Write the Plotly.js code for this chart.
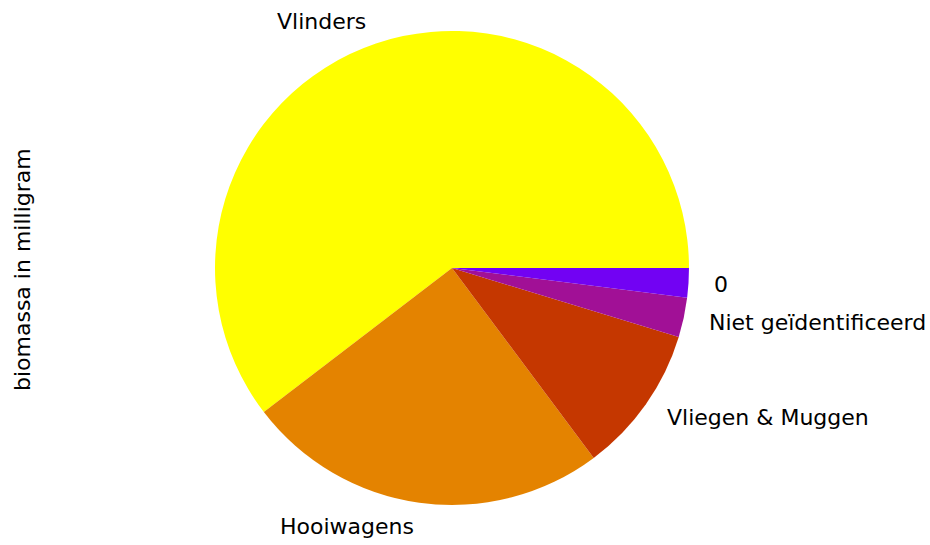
<!DOCTYPE html>
<html>
<head>
<meta charset="utf-8">
<script src="https://cdn.plot.ly/plotly-3.0.1.min.js"></script>
<style>html,body{margin:0;padding:0;background:#fff;}#chart{width:930px;height:545px;}</style>
</head>
<body>
<div id="chart"></div>
<script>
// Data (biomass in milligram per group), counterclockwise order from 3 o'clock
var categories = ["Vlinders", "Hooiwagens", "Vliegen & Muggen", "Niet geïdentificeerd", "0"];
var values = [604, 248, 101, 27, 20];
var colors = ["#ffff00", "#e48300", "#c53700", "#a11096", "#7202f3"];
var yLabel = "biomassa in milligram";

var W = 930, H = 545;
var cx = 452, cy = 268, R = 237;
var fontSpec = {family: "DejaVu Sans", size: 22, color: "#000000"};

var total = values.reduce(function (a, b) { return a + b; }, 0);

var trace = {
  type: "pie",
  labels: categories,
  values: values,
  marker: {colors: colors, line: {width: 0}},
  sort: false,
  direction: "counterclockwise",
  // in plotly's counterclockwise mode the first slice lies clockwise of 'rotation';
  // place its start edge at 3 o'clock like matplotlib's startangle=0
  rotation: 90 - 360 * values[0] / total,
  textinfo: "none",
  hoverinfo: "label+value",
  domain: {x: [(cx - R) / W, (cx + R) / W], y: [1 - (cy + R) / H, 1 - (cy - R) / H]}
};

// Labels placed at 1.1 radius along each slice's mid-angle (computed from values)
var annotations = [];
var cum = 0;
for (var i = 0; i < values.length; i++) {
  var mid = (cum + values[i] / 2) / total * 2 * Math.PI;
  cum += values[i];
  var c = Math.cos(mid), s = Math.sin(mid);
  annotations.push({
    xref: "paper", yref: "paper",
    x: (cx + 1.1 * R * c) / W,
    y: 1 - (cy - 1.1 * R * s) / H,
    text: categories[i],
    showarrow: false,
    xanchor: c >= 0 ? "left" : "right",
    yanchor: "middle",
    font: fontSpec
  });
}
annotations.push({
  xref: "paper", yref: "paper",
  x: 22 / W, y: 1 - 270 / H,
  text: yLabel, textangle: -90, showarrow: false,
  xanchor: "center", yanchor: "middle",
  font: fontSpec
});

var layout = {
  width: W, height: H,
  margin: {l: 0, r: 0, t: 0, b: 0},
  paper_bgcolor: "#ffffff",
  showlegend: false,
  annotations: annotations
};

Plotly.newPlot("chart", [trace], layout, {staticPlot: true});
</script>
</body>
</html>
